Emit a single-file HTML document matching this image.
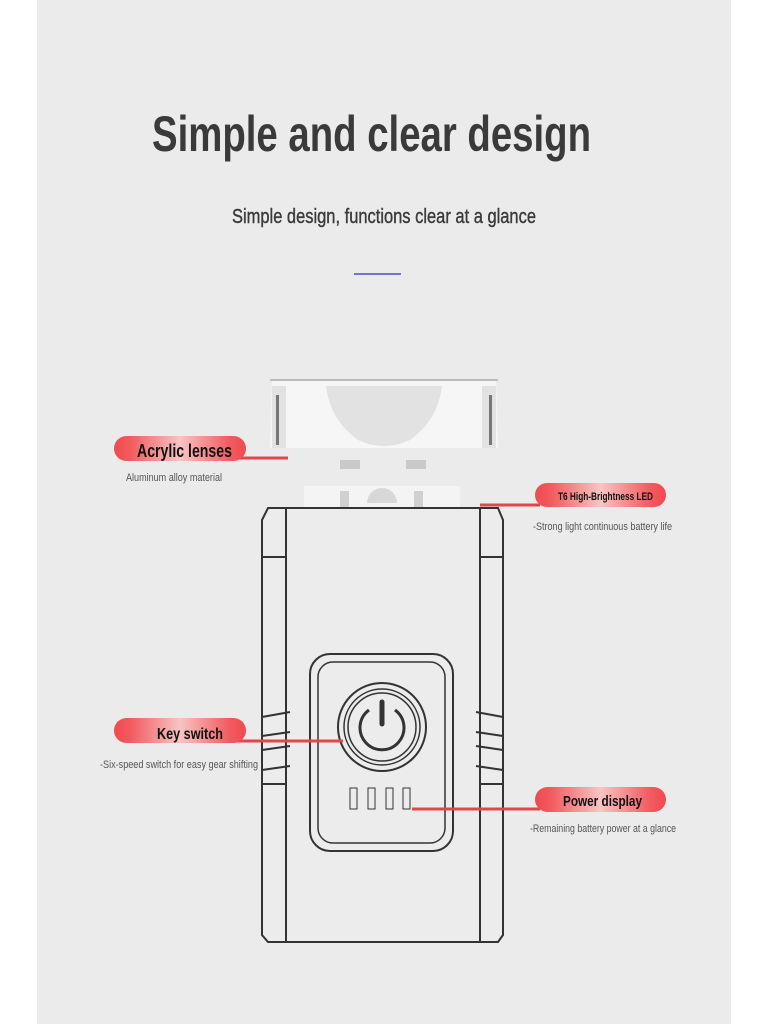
<!DOCTYPE html>
<html><head><meta charset="utf-8"><style>
html,body{margin:0;padding:0;width:768px;height:1024px;overflow:hidden;background:#fff}
svg{display:block}
text{font-family:"Liberation Sans Narrow","Liberation Sans",sans-serif}
</style></head><body>
<svg width="768" height="1024" viewBox="0 0 768 1024">
<defs>
<linearGradient id="pill" x1="0" x2="1">
<stop offset="0" stop-color="#f04a50"/><stop offset="0.12" stop-color="#f25a5e"/>
<stop offset="0.5" stop-color="#f8c4c4"/><stop offset="0.88" stop-color="#f25a5e"/><stop offset="1" stop-color="#f04a50"/>
</linearGradient>
</defs>
<rect x="37" y="0" width="694" height="1024" fill="#ebebeb"/>
<text x="152" y="151" font-size="50" font-weight="bold" fill="#3a3a3a" textLength="439" lengthAdjust="spacingAndGlyphs">Simple and clear design</text>
<text x="232" y="223" font-size="20" fill="#3a3a3a" stroke="#3a3a3a" stroke-width="0.4" textLength="304" lengthAdjust="spacingAndGlyphs">Simple design, functions clear at a glance</text>
<rect x="354" y="273" width="47" height="2" fill="#7a6fd8"/>

<g stroke="none">
<path d="M272 380 L496 380 L498 448 L270 448 Z" fill="#f6f6f6"/>
<rect x="272" y="386" width="14" height="62" fill="#e2e2e2"/>
<rect x="276" y="395" width="3" height="50" fill="#777"/>
<rect x="482" y="386" width="14" height="62" fill="#e2e2e2"/>
<rect x="489" y="395" width="3" height="50" fill="#777"/>
<path d="M326 386 L442 386 Q438 420 410 440 Q384 452 358 440 Q330 420 326 386 Z" fill="#e2e2e2"/>
<path d="M270 380 L498 380" stroke="#bbb" stroke-width="2"/>
<rect x="340" y="460" width="20" height="9" fill="#c9c9c9"/>
<rect x="406" y="460" width="20" height="9" fill="#c9c9c9"/>
<rect x="304" y="486" width="156" height="22" fill="#f4f4f4"/>
<rect x="340" y="491" width="9" height="16" fill="#d0d0d0"/>
<rect x="414" y="491" width="9" height="16" fill="#d0d0d0"/>
<path d="M367 503 A15 15 0 0 1 397 503 Z" fill="#d8d8d8"/>
</g>

<g fill="none" stroke="#333" stroke-width="2">
<path d="M268 508 L498 508 L503 520 L503 935 L498 942 L268 942 L262 935 L262 520 Z" fill="#ececec"/>
<path d="M286 509 L286 941 M480 509 L480 941"/>
<path d="M262 557 L286 557 M480 557 L503 557"/>
<path d="M262 717 L290 712 M262 736 L290 732 M262 750 L290 746 M262 770 L290 766 M262 784 L286 784"/>
<path d="M503 717 L476 712 M503 736 L476 732 M503 750 L476 746 M503 770 L476 766 M503 784 L480 784"/>
<rect x="310" y="654" width="143" height="197" rx="20"/>
<rect x="318" y="662" width="127" height="181" rx="15" stroke-width="1.5"/>
<circle cx="382" cy="727" r="44"/>
<circle cx="382" cy="727" r="38" stroke-width="1.5"/>
<circle cx="382" cy="727" r="34" stroke-width="1.5"/>
<path d="M369 710 A22 22 0 1 0 395 710" stroke-width="3"/>
<path d="M382 702 L382 724" stroke-width="5" stroke-linecap="round"/>
<rect x="350" y="788" width="7" height="21" stroke-width="1"/>
<rect x="368" y="788" width="7" height="21" stroke-width="1"/>
<rect x="386" y="788" width="7" height="21" stroke-width="1"/>
<rect x="403" y="788" width="7" height="21" stroke-width="1"/>
</g>

<g stroke="#e0474c" stroke-width="3">
<line x1="228" y1="458" x2="288" y2="458"/>
<line x1="480" y1="505" x2="540" y2="505"/>
<line x1="230" y1="741" x2="343" y2="741"/>
<line x1="412" y1="809" x2="540" y2="809"/>
</g>

<rect x="114" y="436" width="132" height="25" rx="12.5" fill="url(#pill)"/>
<text x="137" y="457" font-size="18" font-weight="bold" fill="#111" textLength="95" lengthAdjust="spacingAndGlyphs">Acrylic lenses</text>
<text x="126" y="481" font-size="11" fill="#555" textLength="96" lengthAdjust="spacingAndGlyphs">Aluminum alloy material</text>

<rect x="535" y="483" width="131" height="24" rx="12" fill="url(#pill)"/>
<text x="558" y="500" font-size="11" font-weight="bold" fill="#111" textLength="95" lengthAdjust="spacingAndGlyphs">T6 High-Brightness LED</text>
<text x="533" y="530" font-size="11" fill="#555" textLength="139" lengthAdjust="spacingAndGlyphs">-Strong light continuous battery life</text>

<rect x="114" y="718" width="132" height="25" rx="12.5" fill="url(#pill)"/>
<text x="157" y="739" font-size="16" font-weight="bold" fill="#111" textLength="66" lengthAdjust="spacingAndGlyphs">Key switch</text>
<text x="100" y="768" font-size="11" fill="#555" textLength="158" lengthAdjust="spacingAndGlyphs">-Six-speed switch for easy gear shifting</text>

<rect x="535" y="787" width="131" height="25" rx="12.5" fill="url(#pill)"/>
<text x="563" y="806" font-size="15" font-weight="bold" fill="#111" textLength="79" lengthAdjust="spacingAndGlyphs">Power display</text>
<text x="530" y="832" font-size="11" fill="#555" textLength="146" lengthAdjust="spacingAndGlyphs">-Remaining battery power at a glance</text>
</svg>
</body></html>
